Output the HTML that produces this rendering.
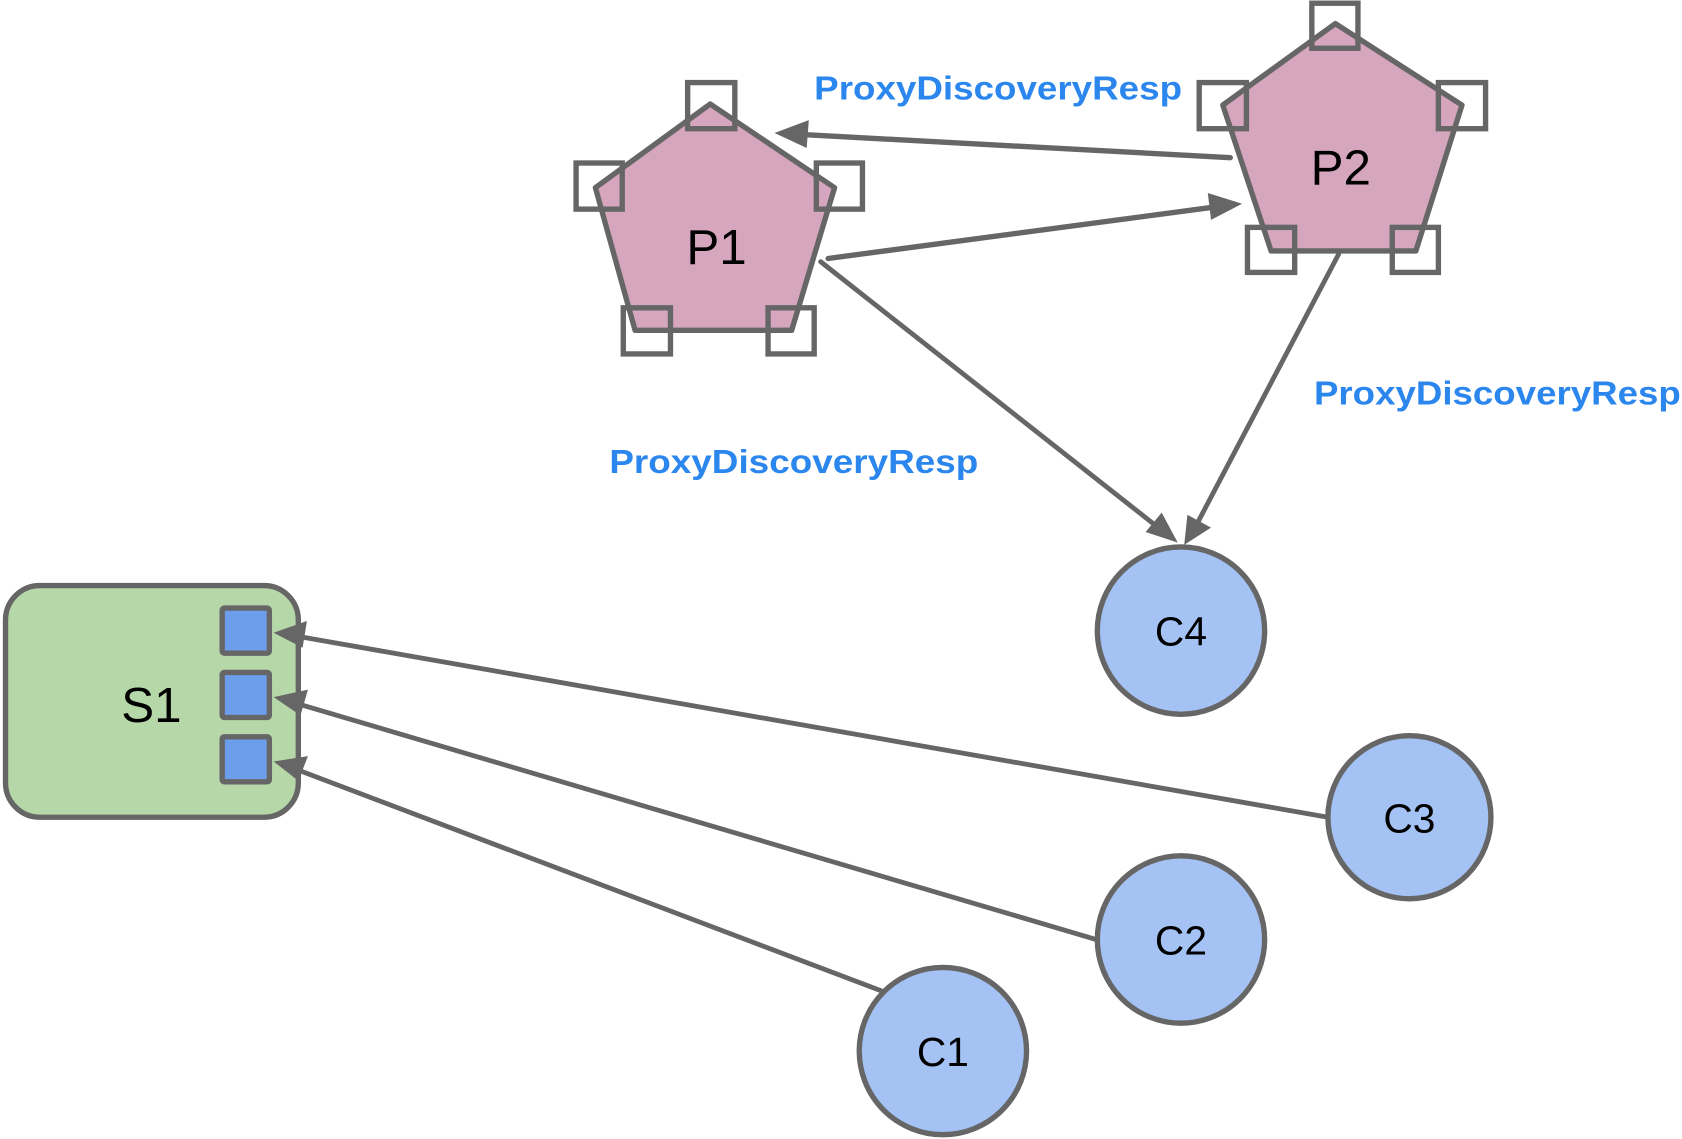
<!DOCTYPE html>
<html><head><meta charset="utf-8"><style>
html,body{margin:0;padding:0;background:#fff;}
svg{display:block;}
</style></head><body>
<svg width="1682" height="1139" viewBox="0 0 1568 1062" xmlns="http://www.w3.org/2000/svg">
<g stroke="#666" fill="#666" stroke-linecap="round">
<line x1="1147" y1="147" x2="740" y2="125" stroke-width="5"/>
<polygon points="722,124 754,112 752,138" stroke="none"/>
<line x1="772" y1="241" x2="1140" y2="192" stroke-width="5"/>
<polygon points="1158,190 1126,180 1129,205" stroke="none"/>
<line x1="765" y1="244" x2="1085" y2="496" stroke-width="4.5"/>
<polygon points="1098,506 1068,496 1083,478" stroke="none"/>
<line x1="1248" y1="237" x2="1113" y2="494" stroke-width="4.5"/>
<polygon points="1104,508 1107,480 1129,492" stroke="none"/>
</g>
<!-- P1 -->
<polygon points="662,97 555,175 592,308 738,308 778,175" fill="#d5a6bd" stroke="#666" stroke-width="5" stroke-linejoin="round"/>
<g fill="none" stroke="#666" stroke-width="5">
<rect x="641" y="77" width="44" height="43"/>
<rect x="537" y="152" width="43" height="43"/>
<rect x="761" y="152" width="43" height="43"/>
<rect x="581" y="287" width="44" height="43"/>
<rect x="716" y="287" width="43" height="43"/>
</g>
<text x="668" y="246" font-family="Liberation Sans, sans-serif" font-size="46" text-anchor="middle" fill="#000">P1</text>
<!-- P2 -->
<polygon points="1245,22 1140,98 1185,234 1320,234 1363,98" fill="#d5a6bd" stroke="#666" stroke-width="5" stroke-linejoin="round"/>
<g fill="none" stroke="#666" stroke-width="5">
<rect x="1223" y="3" width="43" height="42"/>
<rect x="1118" y="77" width="44" height="43"/>
<rect x="1341" y="77" width="44" height="43"/>
<rect x="1163" y="212" width="44" height="42"/>
<rect x="1298" y="212" width="43" height="42"/>
</g>
<text x="1250" y="172" font-family="Liberation Sans, sans-serif" font-size="46" text-anchor="middle" fill="#000">P2</text>
<!-- S1 -->
<rect x="5" y="546" width="273" height="216" rx="32" fill="#b6d7a8" stroke="#666" stroke-width="5"/>
<g fill="#6d9eeb" stroke="#666" stroke-width="5">
<rect x="207" y="567" width="44" height="42" rx="2"/>
<rect x="207" y="627" width="44" height="42" rx="2"/>
<rect x="207" y="687" width="44" height="42" rx="2"/>
</g>
<text x="141" y="673" font-family="Liberation Sans, sans-serif" font-size="46" text-anchor="middle" fill="#000">S1</text>
<g stroke="#666" fill="#666" stroke-linecap="round">
<line x1="1238" y1="762" x2="270" y2="592" stroke-width="4.5"/>
<polygon points="255,590 286,579 282,604" stroke="none"/>
<line x1="1022" y1="876" x2="270" y2="654" stroke-width="4.5"/>
<polygon points="255,650 287,643 280,667" stroke="none"/>
<line x1="822" y1="924" x2="270" y2="715" stroke-width="4.5"/>
<polygon points="255,710 287,705 278,728" stroke="none"/>
</g>
<!-- circles -->
<g fill="#a4c2f4" stroke="#666" stroke-width="5">
<circle cx="1101" cy="588" r="78"/>
<circle cx="1314" cy="762" r="76"/>
<circle cx="1101" cy="876" r="78"/>
<circle cx="879" cy="980" r="78"/>
</g>
<g font-family="Liberation Sans, sans-serif" font-size="38" text-anchor="middle" fill="#000">
<text x="1101" y="602">C4</text>
<text x="1314" y="776">C3</text>
<text x="1101" y="890">C2</text>
<text x="879" y="994">C1</text>
</g>
<g font-family="Liberation Sans, sans-serif" font-size="31" font-weight="bold" fill="#2b87ee">
<text x="759" y="93" textLength="343" lengthAdjust="spacingAndGlyphs">ProxyDiscoveryResp</text>
<text x="1225" y="377" textLength="342" lengthAdjust="spacingAndGlyphs">ProxyDiscoveryResp</text>
<text x="568" y="441" textLength="344" lengthAdjust="spacingAndGlyphs">ProxyDiscoveryResp</text>
</g>
</svg>
</body></html>
